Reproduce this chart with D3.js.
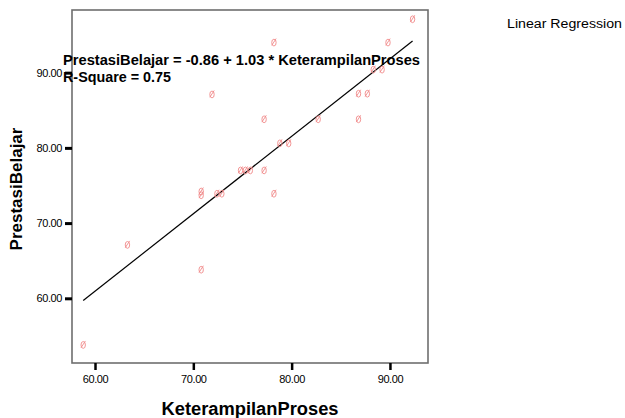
<!DOCTYPE html>
<html>
<head>
<meta charset="utf-8">
<script src="https://cdn.jsdelivr.net/npm/d3@7"></script>
<style>
  body { margin: 0; background: #fff; }
  text { font-family: "Liberation Sans", Arial, sans-serif; }
</style>
</head>
<body>
<div id="chart"></div>
<script>
// Observed values (KeterampilanProses, PrestasiBelajar)
const keterampilan = [58.8, 63.3, 70.8, 70.8, 70.8, 72.4, 72.9, 74.8, 75.3, 75.8, 77.2, 78.2,
                      78.8, 79.7, 77.2, 82.7, 86.8, 71.9, 86.8, 87.7, 88.3, 89.2, 78.2, 89.8, 92.3];
const prestasi     = [53.8, 67.1, 63.8, 73.7, 74.2, 73.9, 73.9, 77.0, 77.0, 77.0, 77.0, 73.9,
                      80.6, 80.6, 83.8, 83.8, 83.8, 87.1, 87.2, 87.2, 90.4, 90.4, 94.0, 94.0, 97.1];
const xTicks = [60, 70, 80, 90];
const yTicks = [60, 70, 80, 90];
const intercept = -0.86, slope = 1.03;

const width = 625, height = 418;
const plot = { left: 72, top: 10, right: 428, bottom: 363 };

const svg = d3.select('#chart').append('svg')
    .attr('width', width)
    .attr('height', height);

const x = d3.scaleLinear().domain([57.66, 93.87]).range([plot.left, plot.right]);
const y = d3.scaleLinear().domain([51.4, 98.33]).range([plot.bottom, plot.top]);

// Frame
svg.append('rect')
    .attr('x', plot.left)
    .attr('y', plot.top)
    .attr('width', plot.right - plot.left)
    .attr('height', plot.bottom - plot.top)
    .attr('fill', 'none')
    .attr('stroke', '#6e6e6e')
    .attr('stroke-width', 1.6);

// Axes
const fmt = d3.format('.2f');
const xAxis = svg.append('g')
    .attr('transform', `translate(0,${plot.bottom})`)
    .call(d3.axisBottom(x).tickValues(xTicks).tickFormat(fmt).tickSize(7).tickSizeOuter(0));
xAxis.select('.domain').remove();
xAxis.selectAll('line').attr('stroke', '#000').attr('stroke-width', 2.5);
xAxis.selectAll('text').attr('font-size', 11).attr('fill', '#000')
    .attr('letter-spacing', -0.4).attr('dy', '0.9em');

const yAxis = svg.append('g')
    .attr('transform', `translate(${plot.left},0)`)
    .call(d3.axisLeft(y).tickValues(yTicks).tickFormat(fmt).tickSize(7).tickSizeOuter(0));
yAxis.select('.domain').remove();
yAxis.selectAll('line').attr('stroke', '#000').attr('stroke-width', 3);
yAxis.selectAll('text').attr('font-size', 11).attr('fill', '#000')
    .attr('letter-spacing', -0.4).attr('x', -10);

// Axis titles
svg.append('text')
    .attr('x', 250)
    .attr('y', 415)
    .attr('text-anchor', 'middle')
    .attr('font-size', 18)
    .attr('font-weight', 'bold')
    .attr('textLength', 177)
    .attr('lengthAdjust', 'spacingAndGlyphs')
    .text('KeterampilanProses');

svg.append('text')
    .attr('transform', 'translate(22,189) rotate(-90)')
    .attr('text-anchor', 'middle')
    .attr('font-size', 17)
    .attr('font-weight', 'bold')
    .text('PrestasiBelajar');

// Regression line
const xMin = d3.min(keterampilan), xMax = d3.max(keterampilan);
svg.append('line')
    .attr('x1', x(xMin)).attr('y1', y(intercept + slope * xMin))
    .attr('x2', x(xMax)).attr('y2', y(intercept + slope * xMax))
    .attr('stroke', '#000')
    .attr('stroke-width', 1.2);

// Points
const points = keterampilan.map((d, i) => ({ x: d, y: prestasi[i] }));
const marks = svg.selectAll('.pt').data(points).enter().append('g')
    .attr('class', 'pt')
    .attr('transform', d => `translate(${x(d.x)},${y(d.y)})`)
    .attr('fill', 'none')
    .attr('stroke', '#f08a8a')
    .attr('stroke-width', 0.9);
marks.append('ellipse').attr('rx', 2.2).attr('ry', 3.4);
marks.append('line').attr('x1', -2.2).attr('y1', 2.8).attr('x2', 2.2).attr('y2', -4);

// Equation annotation
svg.append('text')
    .attr('x', 63).attr('y', 65)
    .attr('font-size', 14)
    .attr('font-weight', 'bold')
    .attr('textLength', 357)
    .attr('lengthAdjust', 'spacingAndGlyphs')
    .text('PrestasiBelajar = -0.86 + 1.03 * KeterampilanProses');

svg.append('text')
    .attr('x', 63).attr('y', 82)
    .attr('font-size', 14)
    .attr('font-weight', 'bold')
    .attr('textLength', 108)
    .attr('lengthAdjust', 'spacingAndGlyphs')
    .text('R-Square = 0.75');

// Legend label
svg.append('text')
    .attr('x', 507).attr('y', 28)
    .attr('font-size', 12)
    .attr('textLength', 115)
    .attr('lengthAdjust', 'spacingAndGlyphs')
    .text('Linear Regression');
</script>
</body>
</html>
